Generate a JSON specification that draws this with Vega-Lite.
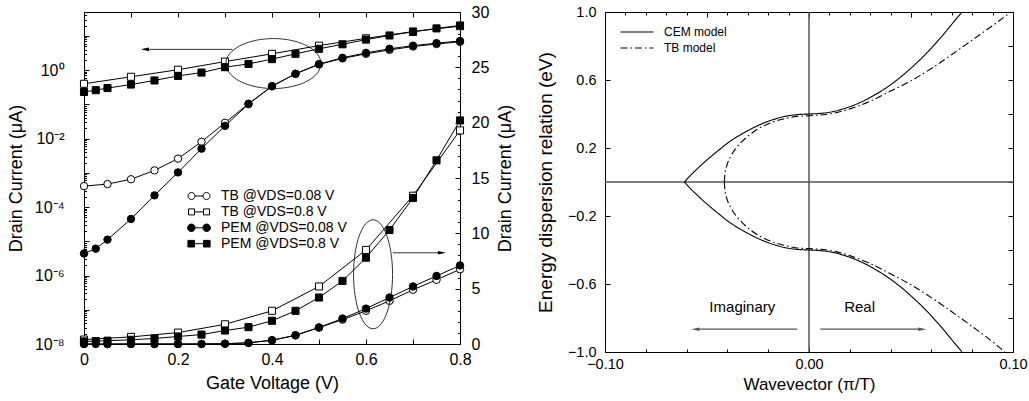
{
 "$schema": "https://vega.github.io/schema/vega-lite/v6.json",
 "background": "white",
 "padding": {"left": 6, "top": 3, "right": 5, "bottom": 0},
 "spacing": 20,
 "resolve": {"scale": {"shape": "independent", "fill": "independent", "strokeDash": "independent"}},
 "datasets": {
  "iv": [
   {"V":0,"series":"TB @VDS=0.08 V","I":0.00041},
   {"V":0.05,"series":"TB @VDS=0.08 V","I":0.00047},
   {"V":0.1,"series":"TB @VDS=0.08 V","I":0.00065},
   {"V":0.15,"series":"TB @VDS=0.08 V","I":0.00118},
   {"V":0.2,"series":"TB @VDS=0.08 V","I":0.0026},
   {"V":0.25,"series":"TB @VDS=0.08 V","I":0.0081},
   {"V":0.3,"series":"TB @VDS=0.08 V","I":0.029},
   {"V":0.35,"series":"TB @VDS=0.08 V","I":0.105},
   {"V":0.4,"series":"TB @VDS=0.08 V","I":0.34},
   {"V":0.45,"series":"TB @VDS=0.08 V","I":0.78},
   {"V":0.5,"series":"TB @VDS=0.08 V","I":1.48},
   {"V":0.55,"series":"TB @VDS=0.08 V","I":2.2},
   {"V":0.6,"series":"TB @VDS=0.08 V","I":3.0},
   {"V":0.65,"series":"TB @VDS=0.08 V","I":3.9},
   {"V":0.7,"series":"TB @VDS=0.08 V","I":4.9},
   {"V":0.75,"series":"TB @VDS=0.08 V","I":5.8},
   {"V":0.8,"series":"TB @VDS=0.08 V","I":6.75},
   {"V":0,"series":"TB @VDS=0.8 V","I":0.4},
   {"V":0.1,"series":"TB @VDS=0.8 V","I":0.64},
   {"V":0.2,"series":"TB @VDS=0.8 V","I":1.03},
   {"V":0.3,"series":"TB @VDS=0.8 V","I":1.78},
   {"V":0.4,"series":"TB @VDS=0.8 V","I":3.0},
   {"V":0.5,"series":"TB @VDS=0.8 V","I":5.2},
   {"V":0.6,"series":"TB @VDS=0.8 V","I":8.5},
   {"V":0.7,"series":"TB @VDS=0.8 V","I":13.4},
   {"V":0.8,"series":"TB @VDS=0.8 V","I":19.3},
   {"V":0,"series":"PEM @VDS=0.08 V","I":0.0000044},
   {"V":0.025,"series":"PEM @VDS=0.08 V","I":0.0000061},
   {"V":0.05,"series":"PEM @VDS=0.08 V","I":0.0000112},
   {"V":0.1,"series":"PEM @VDS=0.08 V","I":0.000045},
   {"V":0.15,"series":"PEM @VDS=0.08 V","I":0.00022},
   {"V":0.2,"series":"PEM @VDS=0.08 V","I":0.00103},
   {"V":0.25,"series":"PEM @VDS=0.08 V","I":0.0051},
   {"V":0.3,"series":"PEM @VDS=0.08 V","I":0.0236},
   {"V":0.35,"series":"PEM @VDS=0.08 V","I":0.102},
   {"V":0.4,"series":"PEM @VDS=0.08 V","I":0.34},
   {"V":0.45,"series":"PEM @VDS=0.08 V","I":0.79},
   {"V":0.5,"series":"PEM @VDS=0.08 V","I":1.5},
   {"V":0.55,"series":"PEM @VDS=0.08 V","I":2.3},
   {"V":0.6,"series":"PEM @VDS=0.08 V","I":3.2},
   {"V":0.65,"series":"PEM @VDS=0.08 V","I":4.2},
   {"V":0.7,"series":"PEM @VDS=0.08 V","I":5.2},
   {"V":0.75,"series":"PEM @VDS=0.08 V","I":6.15},
   {"V":0.8,"series":"PEM @VDS=0.08 V","I":7.1},
   {"V":0,"series":"PEM @VDS=0.8 V","I":0.23},
   {"V":0.025,"series":"PEM @VDS=0.8 V","I":0.26},
   {"V":0.05,"series":"PEM @VDS=0.8 V","I":0.3},
   {"V":0.1,"series":"PEM @VDS=0.8 V","I":0.38},
   {"V":0.15,"series":"PEM @VDS=0.8 V","I":0.5},
   {"V":0.2,"series":"PEM @VDS=0.8 V","I":0.68},
   {"V":0.25,"series":"PEM @VDS=0.8 V","I":0.85},
   {"V":0.3,"series":"PEM @VDS=0.8 V","I":1.22},
   {"V":0.35,"series":"PEM @VDS=0.8 V","I":1.52},
   {"V":0.4,"series":"PEM @VDS=0.8 V","I":2.1},
   {"V":0.45,"series":"PEM @VDS=0.8 V","I":3.0},
   {"V":0.5,"series":"PEM @VDS=0.8 V","I":4.2},
   {"V":0.55,"series":"PEM @VDS=0.8 V","I":5.7},
   {"V":0.6,"series":"PEM @VDS=0.8 V","I":7.8},
   {"V":0.65,"series":"PEM @VDS=0.8 V","I":10.3},
   {"V":0.7,"series":"PEM @VDS=0.8 V","I":13.2},
   {"V":0.75,"series":"PEM @VDS=0.8 V","I":16.6},
   {"V":0.8,"series":"PEM @VDS=0.8 V","I":20.2}
  ],
  "disp": [
   {"model":"CEM model","branch":"up","k":-0.061,"E":0},
   {"model":"CEM model","branch":"up","k":-0.058,"E":0.04},
   {"model":"CEM model","branch":"up","k":-0.055,"E":0.075},
   {"model":"CEM model","branch":"up","k":-0.05,"E":0.13},
   {"model":"CEM model","branch":"up","k":-0.045,"E":0.18},
   {"model":"CEM model","branch":"up","k":-0.04,"E":0.228},
   {"model":"CEM model","branch":"up","k":-0.035,"E":0.268},
   {"model":"CEM model","branch":"up","k":-0.03,"E":0.302},
   {"model":"CEM model","branch":"up","k":-0.025,"E":0.332},
   {"model":"CEM model","branch":"up","k":-0.02,"E":0.357},
   {"model":"CEM model","branch":"up","k":-0.015,"E":0.376},
   {"model":"CEM model","branch":"up","k":-0.01,"E":0.39},
   {"model":"CEM model","branch":"up","k":-0.005,"E":0.397},
   {"model":"CEM model","branch":"up","k":0,"E":0.4},
   {"model":"CEM model","branch":"up","k":0.005,"E":0.403},
   {"model":"CEM model","branch":"up","k":0.01,"E":0.41},
   {"model":"CEM model","branch":"up","k":0.015,"E":0.424},
   {"model":"CEM model","branch":"up","k":0.02,"E":0.443},
   {"model":"CEM model","branch":"up","k":0.025,"E":0.467},
   {"model":"CEM model","branch":"up","k":0.03,"E":0.497},
   {"model":"CEM model","branch":"up","k":0.035,"E":0.532},
   {"model":"CEM model","branch":"up","k":0.04,"E":0.572},
   {"model":"CEM model","branch":"up","k":0.045,"E":0.618},
   {"model":"CEM model","branch":"up","k":0.05,"E":0.67},
   {"model":"CEM model","branch":"up","k":0.055,"E":0.726},
   {"model":"CEM model","branch":"up","k":0.06,"E":0.788},
   {"model":"CEM model","branch":"up","k":0.065,"E":0.855},
   {"model":"CEM model","branch":"up","k":0.07,"E":0.928},
   {"model":"CEM model","branch":"up","k":0.075,"E":1.0},
   {"model":"CEM model","branch":"lo","k":-0.061,"E":0},
   {"model":"CEM model","branch":"lo","k":-0.058,"E":-0.04},
   {"model":"CEM model","branch":"lo","k":-0.055,"E":-0.075},
   {"model":"CEM model","branch":"lo","k":-0.05,"E":-0.13},
   {"model":"CEM model","branch":"lo","k":-0.045,"E":-0.18},
   {"model":"CEM model","branch":"lo","k":-0.04,"E":-0.228},
   {"model":"CEM model","branch":"lo","k":-0.035,"E":-0.268},
   {"model":"CEM model","branch":"lo","k":-0.03,"E":-0.302},
   {"model":"CEM model","branch":"lo","k":-0.025,"E":-0.332},
   {"model":"CEM model","branch":"lo","k":-0.02,"E":-0.357},
   {"model":"CEM model","branch":"lo","k":-0.015,"E":-0.376},
   {"model":"CEM model","branch":"lo","k":-0.01,"E":-0.39},
   {"model":"CEM model","branch":"lo","k":-0.005,"E":-0.397},
   {"model":"CEM model","branch":"lo","k":0,"E":-0.4},
   {"model":"CEM model","branch":"lo","k":0.005,"E":-0.403},
   {"model":"CEM model","branch":"lo","k":0.01,"E":-0.41},
   {"model":"CEM model","branch":"lo","k":0.015,"E":-0.424},
   {"model":"CEM model","branch":"lo","k":0.02,"E":-0.443},
   {"model":"CEM model","branch":"lo","k":0.025,"E":-0.467},
   {"model":"CEM model","branch":"lo","k":0.03,"E":-0.497},
   {"model":"CEM model","branch":"lo","k":0.035,"E":-0.532},
   {"model":"CEM model","branch":"lo","k":0.04,"E":-0.572},
   {"model":"CEM model","branch":"lo","k":0.045,"E":-0.618},
   {"model":"CEM model","branch":"lo","k":0.05,"E":-0.67},
   {"model":"CEM model","branch":"lo","k":0.055,"E":-0.726},
   {"model":"CEM model","branch":"lo","k":0.06,"E":-0.788},
   {"model":"CEM model","branch":"lo","k":0.065,"E":-0.855},
   {"model":"CEM model","branch":"lo","k":0.07,"E":-0.928},
   {"model":"CEM model","branch":"lo","k":0.075,"E":-1.0},
   {"model":"TB model","branch":"up","k":-0.0415,"E":0},
   {"model":"TB model","branch":"up","k":-0.0412,"E":0.05},
   {"model":"TB model","branch":"up","k":-0.0402,"E":0.1},
   {"model":"TB model","branch":"up","k":-0.0384,"E":0.15},
   {"model":"TB model","branch":"up","k":-0.0357,"E":0.2},
   {"model":"TB model","branch":"up","k":-0.0318,"E":0.25},
   {"model":"TB model","branch":"up","k":-0.0266,"E":0.3},
   {"model":"TB model","branch":"up","k":-0.0185,"E":0.35},
   {"model":"TB model","branch":"up","k":-0.012,"E":0.372},
   {"model":"TB model","branch":"up","k":-0.006,"E":0.386},
   {"model":"TB model","branch":"up","k":0,"E":0.39},
   {"model":"TB model","branch":"up","k":0.01,"E":0.4},
   {"model":"TB model","branch":"up","k":0.02,"E":0.43},
   {"model":"TB model","branch":"up","k":0.03,"E":0.475},
   {"model":"TB model","branch":"up","k":0.04,"E":0.535},
   {"model":"TB model","branch":"up","k":0.05,"E":0.595},
   {"model":"TB model","branch":"up","k":0.06,"E":0.668},
   {"model":"TB model","branch":"up","k":0.07,"E":0.75},
   {"model":"TB model","branch":"up","k":0.08,"E":0.835},
   {"model":"TB model","branch":"up","k":0.09,"E":0.92},
   {"model":"TB model","branch":"up","k":0.099,"E":1.0},
   {"model":"TB model","branch":"lo","k":-0.0415,"E":0},
   {"model":"TB model","branch":"lo","k":-0.0412,"E":-0.05},
   {"model":"TB model","branch":"lo","k":-0.0402,"E":-0.1},
   {"model":"TB model","branch":"lo","k":-0.0384,"E":-0.15},
   {"model":"TB model","branch":"lo","k":-0.0357,"E":-0.2},
   {"model":"TB model","branch":"lo","k":-0.0318,"E":-0.25},
   {"model":"TB model","branch":"lo","k":-0.0266,"E":-0.3},
   {"model":"TB model","branch":"lo","k":-0.0185,"E":-0.35},
   {"model":"TB model","branch":"lo","k":-0.012,"E":-0.373},
   {"model":"TB model","branch":"lo","k":-0.006,"E":-0.388},
   {"model":"TB model","branch":"lo","k":0,"E":-0.392},
   {"model":"TB model","branch":"lo","k":0.01,"E":-0.402},
   {"model":"TB model","branch":"lo","k":0.02,"E":-0.433},
   {"model":"TB model","branch":"lo","k":0.03,"E":-0.48},
   {"model":"TB model","branch":"lo","k":0.04,"E":-0.54},
   {"model":"TB model","branch":"lo","k":0.05,"E":-0.605},
   {"model":"TB model","branch":"lo","k":0.06,"E":-0.68},
   {"model":"TB model","branch":"lo","k":0.07,"E":-0.763},
   {"model":"TB model","branch":"lo","k":0.08,"E":-0.85},
   {"model":"TB model","branch":"lo","k":0.09,"E":-0.94},
   {"model":"TB model","branch":"lo","k":0.096,"E":-1.0}
  ]
 },
 "hconcat": [
  {
   "width": 376,
   "height": 332,
   "layer": [
    {
     "layer": [
      {"data": {"name": "iv"},
       "mark": {"type": "line", "color": "black", "strokeWidth": 1},
       "encoding": {
        "x": {"field": "V", "type": "quantitative", "scale": {"domain": [0, 0.8], "nice": false},
         "axis": {"orient": "bottom", "values": [0,0.1,0.2,0.3,0.4,0.5,0.6,0.7,0.8],
          "labelExpr": "abs(datum.value*5 - round(datum.value*5)) < 0.001 ? (datum.value == 0 ? '0' : format(datum.value, '.1f')) : ''",
          "tickSize": -5, "labelPadding": 12, "labelFontSize": 16, "labelOverlap": false, "labelFlush": false,
          "title": "Gate Voltage  (V)", "titleFontSize": 18, "titlePadding": 7}},
        "y": {"field": "I", "type": "quantitative", "scale": {"type": "log", "domain": [0.00000001, 50], "nice": false},
         "axis": {"orient": "left",
          "values": [1e-8,2e-8,3e-8,4e-8,5e-8,6e-8,7e-8,8e-8,9e-8,1e-7,2e-7,3e-7,4e-7,5e-7,6e-7,7e-7,8e-7,9e-7,1e-6,2e-6,3e-6,4e-6,5e-6,6e-6,7e-6,8e-6,9e-6,1e-5,2e-5,3e-5,4e-5,5e-5,6e-5,7e-5,8e-5,9e-5,0.0001,0.0002,0.0003,0.0004,0.0005,0.0006,0.0007,0.0008,0.0009,0.001,0.002,0.003,0.004,0.005,0.006,0.007,0.008,0.009,0.01,0.02,0.03,0.04,0.05,0.06,0.07,0.08,0.09,0.1,0.2,0.3,0.4,0.5,0.6,0.7,0.8,0.9,1,2,3,4,5,6,7,8,9,10,20,30,40,50],
          "labelExpr": "datum.value == 1 ? '10⁰' : datum.value == 0.01 ? '10⁻²' : datum.value == 0.0001 ? '10⁻⁴' : datum.value == 0.000001 ? '10⁻⁶' : datum.value == 0.00000001 ? '10⁻⁸' : ''",
          "tickSize": {"condition": {"test": "abs(log(datum.value)/LN10 - round(log(datum.value)/LN10)) < 0.001", "value": -5}, "value": -2.5},
          "labelFontSize": 16,
          "labelPadding": 25, "labelOverlap": false, "labelFlush": false, "minExtent": 48, "maxExtent": 48,
          "title": "Drain Current (μA)", "titleFontSize": 18, "titlePadding": 11}},
        "detail": {"field": "series"}
       }},
      {"data": {"name": "iv"}, "transform": [{"filter": "datum.series == 'TB @VDS=0.08 V'"}],
       "mark": {"type": "point", "shape": "circle", "size": 55, "filled": true, "fill": "white", "stroke": "black", "strokeWidth": 1, "opacity": 1},
       "encoding": {"x": {"field": "V", "type": "quantitative"}, "y": {"field": "I", "type": "quantitative"}}},
      {"data": {"name": "iv"}, "transform": [{"filter": "datum.series == 'TB @VDS=0.8 V'"}],
       "mark": {"type": "point", "shape": "square", "size": 50, "filled": true, "fill": "white", "stroke": "black", "strokeWidth": 1, "opacity": 1},
       "encoding": {"x": {"field": "V", "type": "quantitative"}, "y": {"field": "I", "type": "quantitative"}}},
      {"data": {"name": "iv"}, "transform": [{"filter": "datum.series == 'PEM @VDS=0.08 V'"}],
       "mark": {"type": "point", "shape": "circle", "size": 55, "filled": true, "fill": "black", "stroke": "black", "strokeWidth": 1, "opacity": 1},
       "encoding": {"x": {"field": "V", "type": "quantitative"}, "y": {"field": "I", "type": "quantitative"}}},
      {"data": {"name": "iv"}, "transform": [{"filter": "datum.series == 'PEM @VDS=0.8 V'"}],
       "mark": {"type": "point", "shape": "square", "size": 50, "filled": true, "fill": "black", "stroke": "black", "strokeWidth": 1, "opacity": 1},
       "encoding": {"x": {"field": "V", "type": "quantitative"}, "y": {"field": "I", "type": "quantitative"}}},
      {"data": {"name": "iv"}, "transform": [{"filter": "false"}],
       "mark": {"type": "point", "filled": false, "color": "black", "stroke": "black", "strokeWidth": 1, "opacity": 1},
       "encoding": {
        "shape": {"field": "series", "type": "nominal",
         "scale": {"domain": ["TB @VDS=0.08 V","TB @VDS=0.8 V","PEM @VDS=0.08 V","PEM @VDS=0.8 V"],
          "range": [
           "M -0.667 0 L 0.667 0 M -1.833 0 A 0.583 0.583 0 1 1 -0.667 0 A 0.583 0.583 0 1 1 -1.833 0 M 0.667 0 A 0.583 0.583 0 1 1 1.833 0 A 0.583 0.583 0 1 1 0.667 0",
           "M -0.75 0 L 0.75 0 M -1.75 -0.5 L -0.75 -0.5 L -0.75 0.5 L -1.75 0.5 Z M 0.75 -0.5 L 1.75 -0.5 L 1.75 0.5 L 0.75 0.5 Z",
           "M -0.65 0 L 0.65 0 M -1.9 0 A 0.625 0.625 0 1 1 -0.65 0 A 0.625 0.625 0 1 1 -1.9 0 M 0.65 0 A 0.625 0.625 0 1 1 1.9 0 A 0.625 0.625 0 1 1 0.65 0",
           "M -0.75 0 L 0.75 0 M -1.85 -0.55 L -0.75 -0.55 L -0.75 0.55 L -1.85 0.55 Z M 0.75 -0.55 L 1.85 -0.55 L 1.85 0.55 L 0.75 0.55 Z"]},
         "legend": {"title": null, "orient": "none", "legendX": 108, "legendY": 177, "padding": 0,
          "labelFontSize": 14, "labelFont": "Liberation Sans", "labelColor": "black",
          "symbolSize": 144, "rowPadding": 1.9, "labelOffset": 15, "symbolStrokeColor": "black", "symbolStrokeWidth": 1, "symbolOpacity": 1,
          "encode": {"symbols": {"update": {"stroke": {"value": "black"}, "strokeWidth": {"value": 1}, "opacity": {"value": 1}}}}}},
        "fill": {"field": "series", "type": "nominal",
         "scale": {"domain": ["TB @VDS=0.08 V","TB @VDS=0.8 V","PEM @VDS=0.08 V","PEM @VDS=0.8 V"], "range": ["white","white","black","black"]},
         "legend": {"title": null, "orient": "none", "legendX": 108, "legendY": 177, "padding": 0,
          "labelFontSize": 14, "labelFont": "Liberation Sans", "labelColor": "black",
          "symbolSize": 144, "rowPadding": 1.9, "labelOffset": 15, "symbolStrokeColor": "black", "symbolStrokeWidth": 1, "symbolOpacity": 1,
          "encode": {"symbols": {"update": {"stroke": {"value": "black"}, "strokeWidth": {"value": 1}, "opacity": {"value": 1}}}}}}
       }},
      {"data": {"values": [{}]},
       "mark": {"type": "point", "shape": "M -1 0 A 1 0.526 0 1 1 1 0 A 1 0.526 0 1 1 -1 0", "size": 9025, "filled": false, "stroke": "black", "strokeWidth": 0.8, "opacity": 1},
       "encoding": {"x": {"datum": 0.403}, "y": {"datum": 1.56}}},
      {"data": {"values": [{}]},
       "mark": {"type": "rule", "color": "black", "strokeWidth": 0.8},
       "encoding": {"x": {"datum": 0.316}, "x2": {"datum": 0.128}, "y": {"datum": 4.05}}},
      {"data": {"values": [{}]},
       "mark": {"type": "point", "shape": "M 0 0 L 2 -0.45 L 2 0.45 Z", "size": 64, "filled": true, "color": "black", "opacity": 1},
       "encoding": {"x": {"datum": 0.121}, "y": {"datum": 4.05}}}
     ]
    },
    {
     "layer": [
      {"data": {"name": "iv"},
       "mark": {"type": "line", "color": "black", "strokeWidth": 1},
       "encoding": {
        "x": {"field": "V", "type": "quantitative", "scale": {"domain": [0, 0.8], "nice": false},
         "axis": {"orient": "top", "values": [0,0.1,0.2,0.3,0.4,0.5,0.6,0.7,0.8], "labels": false, "tickSize": -5, "title": null}},
        "y": {"field": "I", "type": "quantitative", "scale": {"domain": [0, 30], "nice": false},
         "axis": {"orient": "right",
          "values": [0,5,10,15,20,25,30],
          "format": "d",
          "tickSize": -5,
          "labelFontSize": 16,
          "labelPadding": 16, "labelOverlap": false, "labelFlush": false, "labelBound": false, "minExtent": 29, "maxExtent": 29,
          "title": "Drain Current  (μA)", "titleFontSize": 18, "titlePadding": 7, "titleAngle": 270, "titleBaseline": "top"}},
        "detail": {"field": "series"}
       }},
      {"data": {"name": "iv"}, "transform": [{"filter": "datum.series == 'TB @VDS=0.08 V'"}],
       "mark": {"type": "point", "shape": "circle", "size": 55, "filled": true, "fill": "white", "stroke": "black", "strokeWidth": 1, "opacity": 1},
       "encoding": {"x": {"field": "V", "type": "quantitative"}, "y": {"field": "I", "type": "quantitative"}}},
      {"data": {"name": "iv"}, "transform": [{"filter": "datum.series == 'TB @VDS=0.8 V'"}],
       "mark": {"type": "point", "shape": "square", "size": 50, "filled": true, "fill": "white", "stroke": "black", "strokeWidth": 1, "opacity": 1},
       "encoding": {"x": {"field": "V", "type": "quantitative"}, "y": {"field": "I", "type": "quantitative"}}},
      {"data": {"name": "iv"}, "transform": [{"filter": "datum.series == 'PEM @VDS=0.08 V'"}],
       "mark": {"type": "point", "shape": "circle", "size": 55, "filled": true, "fill": "black", "stroke": "black", "strokeWidth": 1, "opacity": 1},
       "encoding": {"x": {"field": "V", "type": "quantitative"}, "y": {"field": "I", "type": "quantitative"}}},
      {"data": {"name": "iv"}, "transform": [{"filter": "datum.series == 'PEM @VDS=0.8 V'"}],
       "mark": {"type": "point", "shape": "square", "size": 50, "filled": true, "fill": "black", "stroke": "black", "strokeWidth": 1, "opacity": 1},
       "encoding": {"x": {"field": "V", "type": "quantitative"}, "y": {"field": "I", "type": "quantitative"}}},
      {"data": {"values": [{}]},
       "mark": {"type": "point", "shape": "M 0 -1 A 0.358 1 0 1 1 0 1 A 0.358 1 0 1 1 0 -1", "size": 11881, "filled": false, "stroke": "black", "strokeWidth": 0.8, "opacity": 1},
       "encoding": {"x": {"datum": 0.615}, "y": {"datum": 6.3}}},
      {"data": {"values": [{}]},
       "mark": {"type": "rule", "color": "black", "strokeWidth": 0.8},
       "encoding": {"x": {"datum": 0.657}, "x2": {"datum": 0.763}, "y": {"datum": 8.24}}},
      {"data": {"values": [{}]},
       "mark": {"type": "point", "shape": "M 0 0 L -2 -0.45 L -2 0.45 Z", "size": 64, "filled": true, "color": "black", "opacity": 1},
       "encoding": {"x": {"datum": 0.77}, "y": {"datum": 8.24}}}
     ]
    },
    {
     "data": {"values": [{}]},
     "mark": {"type": "point", "opacity": 0},
     "encoding": {
      "y": {"datum": 0, "type": "quantitative", "scale": {"domain": [0, 30], "nice": false},
       "axis": {"orient": "right", "values": [1,2,3,4,6,7,8,9,11,12,13,14,16,17,18,19,21,22,23,24,26,27,28,29],
        "labels": false, "title": null, "tickSize": -2.5, "offset": 0}}
     }
    }
   ],
   "resolve": {"scale": {"x": "independent", "y": "independent"}}
  },
  {
   "width": 408,
   "height": 340,
   "layer": [
    {
     "layer": [
      {"data": {"values": [{}]}, "mark": {"type": "rule", "color": "#555555", "strokeWidth": 1.5}, "encoding": {"y": {"datum": 0}}},
      {"data": {"values": [{}]}, "mark": {"type": "rule", "color": "#555555", "strokeWidth": 1.5}, "encoding": {"x": {"datum": 0}}},
      {"data": {"name": "disp"},
       "mark": {"type": "line", "color": "black", "strokeWidth": 1.1, "interpolate": "monotone"},
       "encoding": {
        "x": {"field": "k", "type": "quantitative", "scale": {"domain": [-0.1, 0.1], "nice": false},
         "axis": {"orient": "bottom",
          "values": [-0.1,-0.09,-0.08,-0.07,-0.06,-0.05,-0.04,-0.03,-0.02,-0.01,0,0.01,0.02,0.03,0.04,0.05,0.06,0.07,0.08,0.09,0.1],
          "labelExpr": "abs(datum.value*20 - round(datum.value*20)) < 0.001 ? format(datum.value, '.2f') : ''",
          "tickSize": {"condition": {"test": "abs(datum.value*20 - round(datum.value*20)) < 0.001", "value": -5}, "value": -3},
          "labelPadding": 10, "labelFontSize": 14.5, "labelOverlap": false, "labelFlush": false,
          "title": "Wavevector (π/T)", "titleFontSize": 17, "titlePadding": 4}},
        "y": {"field": "E", "type": "quantitative", "scale": {"domain": [-1, 1], "nice": false},
         "axis": {"orient": "left",
          "values": [-1,-0.8,-0.6,-0.4,-0.2,0,0.2,0.4,0.6,0.8,1],
          "labelExpr": "round(abs(datum.value)*10) % 4 == 2 ? format(datum.value, '.1f') : ''",
          "tickSize": -5, "labelPadding": 14, "labelFontSize": 14.5, "labelOverlap": false, "labelFlush": false, "minExtent": 40, "maxExtent": 40,
          "title": "Energy dispersion relation (eV)", "titleFontSize": 19, "titlePadding": 10}},
        "detail": {"field": "branch"},
        "strokeDash": {"field": "model", "type": "nominal",
         "scale": {"domain": ["CEM model", "TB model"], "range": [[1, 0], [7, 3, 1.5, 3]]},
         "legend": {"title": null, "orient": "none", "legendX": 25, "legendY": 13, "padding": 0,
          "labelFontSize": 12, "labelFont": "Liberation Sans", "labelColor": "black",
          "symbolSize": 144, "symbolType": "M -2.75 0 L 2.75 0", "symbolStrokeWidth": 1.1, "symbolStrokeColor": "black",
          "labelOffset": 20, "rowPadding": 3}}
       }},
      {"data": {"values": [{}]}, "mark": {"type": "text", "text": "Imaginary", "fontSize": 15, "font": "Liberation Sans", "color": "black"},
       "encoding": {"x": {"datum": -0.0327}, "y": {"datum": -0.734}}},
      {"data": {"values": [{}]}, "mark": {"type": "text", "text": "Real", "fontSize": 15, "font": "Liberation Sans", "color": "black"},
       "encoding": {"x": {"datum": 0.0248}, "y": {"datum": -0.734}}},
      {"data": {"values": [{}]}, "mark": {"type": "rule", "color": "#555555", "strokeWidth": 1.3},
       "encoding": {"x": {"datum": -0.0057}, "x2": {"datum": -0.0545}, "y": {"datum": -0.866}}},
      {"data": {"values": [{}]}, "mark": {"type": "point", "shape": "M 0 0 L 2 -0.45 L 2 0.45 Z", "size": 64, "filled": true, "color": "#555555", "opacity": 1},
       "encoding": {"x": {"datum": -0.0577}, "y": {"datum": -0.866}}},
      {"data": {"values": [{}]}, "mark": {"type": "rule", "color": "#555555", "strokeWidth": 1.3},
       "encoding": {"x": {"datum": 0.0055}, "x2": {"datum": 0.0545}, "y": {"datum": -0.866}}},
      {"data": {"values": [{}]}, "mark": {"type": "point", "shape": "M 0 0 L -2 -0.45 L -2 0.45 Z", "size": 64, "filled": true, "color": "#555555", "opacity": 1},
       "encoding": {"x": {"datum": 0.0575}, "y": {"datum": -0.866}}}
     ]
    },
    {
     "data": {"values": [{}]},
     "mark": {"type": "point", "opacity": 0},
     "encoding": {
      "x": {"datum": 0, "type": "quantitative", "scale": {"domain": [-0.1, 0.1], "nice": false},
       "axis": {"orient": "top",
        "values": [-0.1,-0.09,-0.08,-0.07,-0.06,-0.05,-0.04,-0.03,-0.02,-0.01,0,0.01,0.02,0.03,0.04,0.05,0.06,0.07,0.08,0.09,0.1],
        "labels": false, "title": null,
        "tickSize": {"condition": {"test": "abs(datum.value*20 - round(datum.value*20)) < 0.001", "value": -5}, "value": -3}}},
      "y": {"datum": 0, "type": "quantitative", "scale": {"domain": [-1, 1], "nice": false},
       "axis": {"orient": "right", "values": [-1,-0.8,-0.6,-0.4,-0.2,0,0.2,0.4,0.6,0.8,1], "labels": false, "title": null, "tickSize": -5}}
     }
    }
   ],
   "resolve": {"scale": {"x": "independent", "y": "independent"}}
  }
 ],
 "config": {
  "view": {"stroke": "black", "strokeWidth": 1},
  "axis": {"grid": false, "domain": false, "tickColor": "black", "tickWidth": 1, "labelColor": "black", "titleColor": "black",
   "labelFont": "Liberation Sans", "titleFont": "Liberation Sans", "titleFontWeight": "normal", "labelFlush": false, "labelOverlap": false},
  "legend": {"labelFont": "Liberation Sans", "labelColor": "black"},
  "text": {"font": "Liberation Sans"},
  "title": {"font": "Liberation Sans"}
 }
}
